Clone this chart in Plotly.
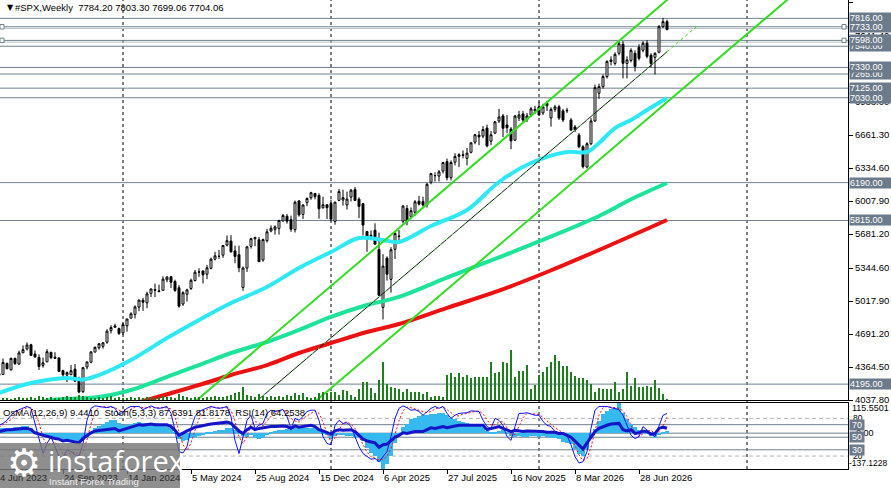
import numpy as np
import pandas as pd
import plotly.graph_objects as go

# weekly bars, MT4 weeks start on Sunday; first bar = week of 4 Jun 2023
first_week = "2023-06-04"

open_ = [4282, 4290, 4400, 4337, 4450, 4394, 4505, 4544, 4585, 4492,
         4459, 4380, 4415, 4510, 4462, 4454, 4329, 4284, 4289, 4343,
         4226, 4120, 4365, 4412, 4512, 4555, 4569, 4610, 4725, 4758,
         4745, 4703, 4772, 4848, 4886, 4958, 5026, 5000, 5094, 5131,
         5111, 5123, 5228, 5258, 5211, 5149, 4988, 5085, 5142, 5221,
         5305, 5316, 5283, 5342, 5432, 5460, 5472, 5572, 5611, 5514,
         5476, 5152, 5345, 5559, 5634, 5624, 5424, 5615, 5711, 5727,
         5737, 5810, 5857, 5823, 5724, 6008, 5875, 5992, 6040, 6083,
         6063, 5941, 5970, 5982, 5805, 6014, 6018, 5970, 6046, 6121,
         6026, 5981, 5706, 5658, 5718, 5527, 4954, 5442, 5232, 5529,
         5656, 5808, 5934, 5855, 5897, 6005, 6004, 5970, 6193, 6259,
         6255, 6304, 6398, 6240, 6392, 6450, 6466, 6430, 6490, 6590,
         6660, 6650, 6730, 6600, 6680, 6800, 6850, 6760, 6720, 6610,
         6830, 6870, 6815, 6860, 6915, 6940, 6880, 6950, 6830, 6915,
         6940, 6900, 6900, 6810, 6740, 6660, 6545, 6345, 6575, 6800,
         7075, 7140, 7240, 7390, 7370, 7470, 7560, 7370, 7400, 7470,
         7530, 7500, 7570, 7450, 7430, 7480, 7734, 7784.20]
high = [4299, 4448, 4408, 4458, 4456, 4527, 4578, 4608, 4594, 4528,
        4490, 4458, 4541, 4515, 4511, 4461, 4338, 4320, 4385, 4394,
        4268, 4366, 4415, 4521, 4568, 4598, 4609, 4739, 4778, 4793,
        4755, 4802, 4842, 4907, 4975, 5030, 5049, 5111, 5141, 5190,
        5180, 5262, 5265, 5264, 5229, 5175, 5114, 5139, 5239, 5325,
        5342, 5315, 5375, 5448, 5505, 5524, 5570, 5667, 5670, 5566,
        5566, 5360, 5564, 5643, 5651, 5651, 5636, 5733, 5767, 5767,
        5822, 5879, 5878, 5863, 6012, 6018, 5973, 6044, 6099, 6085,
        6085, 6050, 5977, 6022, 5999, 6128, 6120, 6101, 6127, 6147,
        6044, 5987, 5710, 5716, 5787, 5695, 5481, 5460, 5551, 5700,
        5721, 5969, 5968, 5944, 6017, 6059, 6050, 6187, 6285, 6291,
        6315, 6395, 6428, 6410, 6481, 6482, 6508, 6532, 6590, 6672,
        6700, 6750, 6764, 6700, 6800, 6920, 6870, 6860, 6740, 6860,
        6900, 6900, 6880, 6940, 6950, 6990, 6970, 7000, 6935, 6960,
        6960, 6920, 6930, 6830, 6760, 6680, 6560, 6590, 6830, 7160,
        7170, 7260, 7400, 7440, 7480, 7600, 7590, 7440, 7520, 7500,
        7560, 7590, 7600, 7470, 7480, 7750, 7820, 7803.30]
low = [4260, 4290, 4341, 4328, 4385, 4389, 4503, 4528, 4474, 4456,
       4335, 4357, 4414, 4442, 4448, 4317, 4238, 4216, 4283, 4223,
       4104, 4108, 4342, 4401, 4511, 4537, 4546, 4594, 4697, 4751,
       4682, 4682, 4714, 4845, 4845, 4917, 4920, 4946, 5057, 5057,
       5104, 5117, 5203, 5146, 5108, 4953, 4969, 5012, 5127, 5211,
       5257, 5192, 5234, 5331, 5420, 5434, 5445, 5558, 5497, 5391,
       5303, 5119, 5306, 5537, 5560, 5403, 5407, 5596, 5698, 5675,
       5675, 5805, 5784, 5703, 5696, 5853, 5830, 5957, 6020, 6024,
       5832, 5933, 5829, 5807, 5773, 6006, 5962, 5923, 6003, 6009,
       5837, 5666, 5505, 5632, 5572, 5069, 4835, 5220, 5101, 5434,
       5602, 5786, 5768, 5838, 5862, 5964, 5952, 5943, 6174, 6201,
       6201, 6281, 6212, 6212, 6360, 6343, 6430, 6360, 6480, 6570,
       6560, 6630, 6540, 6560, 6670, 6780, 6640, 6680, 6520, 6600,
       6800, 6780, 6790, 6840, 6870, 6850, 6860, 6900, 6744, 6890,
       6810, 6790, 6880, 6700, 6690, 6530, 6330, 6330, 6560, 6790,
       7020, 7120, 7220, 7350, 7350, 7450, 7222, 7222, 7380, 7290,
       7400, 7480, 7420, 7330, 7260, 7470, 7720, 7699.06]
close = [4299, 4410, 4348, 4450, 4399, 4505, 4536, 4582, 4478, 4464,
         4370, 4406, 4516, 4457, 4450, 4320, 4288, 4309, 4328, 4224,
         4117, 4358, 4415, 4514, 4559, 4595, 4604, 4719, 4755, 4770,
         4697, 4784, 4840, 4891, 4959, 5027, 5006, 5089, 5137, 5124,
         5117, 5234, 5254, 5204, 5123, 4967, 5100, 5128, 5223, 5303,
         5305, 5278, 5347, 5432, 5465, 5460, 5567, 5615, 5505, 5459,
         5347, 5344, 5554, 5635, 5648, 5408, 5626, 5703, 5738, 5751,
         5815, 5865, 5808, 5729, 5996, 5871, 5969, 6032, 6090, 6051,
         5931, 5971, 5942, 5827, 5997, 6101, 6041, 6026, 6115, 6013,
         5955, 5770, 5639, 5668, 5581, 5074, 5363, 5283, 5525, 5687,
         5660, 5958, 5803, 5912, 6000, 5977, 5968, 6173, 6279, 6260,
         6297, 6389, 6238, 6389, 6449, 6466, 6460, 6482, 6584, 6664,
         6643, 6716, 6552, 6664, 6791, 6840, 6728, 6734, 6603, 6849,
         6860, 6810, 6850, 6920, 6900, 6860, 6940, 6975, 6915, 6940,
         6830, 6810, 6905, 6711, 6711, 6545, 6348, 6575, 6800, 7130,
         7140, 7240, 7390, 7404, 7460, 7565, 7371, 7405, 7500, 7340,
         7420, 7570, 7440, 7370, 7470, 7734, 7784, 7704.06]
# tick volume, arbitrary units
volume = [30, 20, 20, 10, 20, 30, 20, 20, 30, 20,
          40, 30, 20, 30, 20, 20, 30, 40, 30, 30,
          50, 40, 30, 20, 20, 30, 20, 30, 40, 20,
          30, 20, 20, 30, 20, 30, 20, 30, 30, 20,
          30, 40, 30, 30, 20, 60, 40, 30, 20, 30,
          30, 20, 30, 30, 40, 30, 30, 40, 50, 70,
          80, 130, 50, 40, 30, 60, 40, 30, 40, 30,
          40, 30, 50, 40, 70, 50, 67, 33, 17, 33,
          67, 83, 67, 83, 83, 50, 100, 90, 50, 33,
          107, 183, 183, 117, 67, 200, 383, 157, 133, 123,
          110, 83, 107, 77, 83, 83, 57, 77, 33, 40,
          40, 27, 250, 267, 233, 267, 233, 250, 217, 227,
          233, 227, 227, 383, 267, 277, 383, 367, 500, 233,
          290, 290, 350, 107, 150, 250, 283, 333, 383, 450,
          390, 343, 343, 283, 243, 217, 223, 200, 157, 77,
          117, 107, 107, 107, 177, 77, 107, 283, 140, 217,
          133, 133, 143, 133, 200, 117, 57, 10]

osma = [18, 18, 18, 19, 22, 24, 26, 26, 18, 9,
        -1, -10, -10, -11, -13, -20, -27, -29, -29, -29,
        -33, -26, -13, 6, 19, 28, 37, 43, 50, 50,
        38, 32, 32, 34, 38, 41, 38, 38, 40, 38,
        34, 34, 28, 18, 3, -23, -29, -27, -20, -17,
        -10, -4, 3, 5, 9, 13, 13, 18, 18, 13,
        3, -10, -13, -8, -17, -23, -20, -4, 5, 9,
        12, 14, 15, 13, 18, 18, 19, 18, 20, 18,
        13, 5, -8, -17, -10, -8, -8, -10, -10, -13,
        -20, -29, -55, -74, -87, -112, -137.1, -119, -87, -36,
        -4, 22, 34, 54, 60, 66, 69, 70, 73, 73,
        77, 77, 69, 60, 54, 47, 41, 38, 34, 28,
        26, 22, 9, 3, 6, 9, 13, 3, -10, -13,
        -10, -13, -13, -10, -10, -13, -10, -13, -17, -17,
        -23, -33, -36, -42, -61, -80, -87, -61, -17, 15,
        47, 73, 86, 92, 98, 115.5, 79, 56, 34, 22,
        13, 9, 3, -10, -17, -4, 5, 9.44]
stoch_main = [69, 72, 77, 85, 91, 94, 97, 99, 96, 72,
              51, 24, 40, 51, 35, 19, 18, 30, 27, 22,
              20, 40, 77, 96, 100, 99, 99, 97, 99, 96,
              85, 91, 96, 99, 99, 99, 94, 97, 100, 97,
              96, 97, 99, 88, 61, 27, 25, 35, 64, 83,
              91, 94, 97, 99, 97, 96, 97, 99, 83, 45,
              24, 51, 77, 85, 64, 69, 72, 88, 93, 91,
              93, 94, 83, 64, 80, 77, 83, 91, 93, 93,
              77, 51, 40, 38, 69, 77, 72, 73, 67, 51,
              35, 24, 19, 15, 16, 11, 19, 27, 51, 80,
              96, 100, 97, 93, 94, 91, 85, 91, 96, 99,
              96, 99, 88, 80, 85, 88, 88, 89, 92, 92,
              91, 77, 67, 64, 80, 77, 69, 51, 45, 67,
              88, 88, 89, 87, 85, 85, 75, 69, 67, 59,
              56, 56, 53, 38, 19, 9, 11, 27, 64, 93,
              99, 99, 99, 97, 96, 94, 85, 69, 53, 48,
              51, 67, 61, 56, 51, 69, 85, 87.64]
stoch_signal = [66, 70, 73, 78, 84, 90, 94, 97, 97, 89,
                73, 49, 38, 38, 42, 35, 24, 22, 25, 26,
                23, 27, 46, 71, 91, 98, 99, 98, 98, 97,
                93, 91, 91, 95, 98, 99, 97, 97, 97, 98,
                98, 97, 97, 95, 83, 59, 38, 29, 41, 61,
                79, 89, 94, 97, 98, 97, 97, 97, 93, 76,
                51, 40, 51, 71, 75, 73, 68, 76, 84, 91,
                92, 93, 90, 80, 76, 74, 80, 84, 89, 92,
                88, 74, 56, 43, 49, 61, 73, 74, 71, 64,
                51, 37, 26, 19, 17, 14, 15, 19, 32, 53,
                76, 92, 98, 97, 95, 93, 90, 89, 91, 95,
                97, 98, 94, 89, 84, 84, 87, 88, 90, 91,
                92, 87, 78, 69, 70, 74, 75, 66, 55, 54,
                67, 81, 88, 88, 87, 86, 82, 76, 70, 65,
                61, 57, 55, 49, 37, 22, 13, 16, 34, 61,
                85, 97, 99, 98, 97, 96, 92, 83, 69, 57,
                51, 55, 60, 61, 56, 59, 68, 81.82]
rsi = [59, 61, 62, 62, 63, 63, 64, 64, 62, 57,
       55, 53, 51, 50, 48, 47, 44, 45, 44, 43,
       41, 48, 53, 57, 60, 61, 61, 62, 64, 64,
       60, 62, 65, 67, 69, 70, 69, 70, 71, 70,
       70, 71, 70, 67, 61, 53, 57, 60, 63, 66,
       67, 69, 70, 71, 72, 72, 73, 74, 72, 66,
       60, 56, 62, 66, 62, 64, 65, 67, 67, 67,
       68, 68, 67, 64, 68, 66, 67, 68, 69, 67,
       62, 60, 58, 55, 60, 62, 61, 61, 62, 59,
       53, 47, 44, 43, 41, 34, 38, 39, 44, 50,
       53, 57, 56, 58, 59, 59, 59, 62, 65, 64,
       65, 67, 65, 67, 68, 69, 69, 69, 69, 70,
       70, 69, 62, 64, 66, 67, 64, 62, 59, 61,
       60, 59, 60, 60, 60, 59, 59, 58, 58, 58,
       56, 56, 53, 50, 44, 38, 31, 41, 51, 59,
       64, 67, 69, 71, 71, 72, 62, 60, 62, 56,
       57, 60, 59, 55, 56, 64, 66, 64.25]

# moving averages at a few bars (bar index, value)
ma_fast_idx = [0, 8, 17, 21, 25, 33, 42, 50, 58, 67, 75, 83, 90, 96, 100, 108, 117, 125, 133, 142, 147, 150, 154, 158, 162, 167]
ma_fast_val = [4107, 4206, 4256, 4240, 4285, 4434, 4651, 4830, 4998, 5157, 5345, 5503, 5641, 5622, 5602, 5760, 5919, 6196, 6384, 6493, 6493, 6582, 6730, 6810, 6909, 7028]
ma_mid_idx = [10, 13, 25, 33, 42, 50, 58, 67, 75, 83, 92, 100, 112, 125, 137, 150, 158, 167]
ma_mid_val = [4010, 4038, 4067, 4137, 4266, 4384, 4503, 4612, 4731, 4860, 4978, 5058, 5250, 5450, 5640, 5860, 6025, 6186]
ma_slow_idx = [35, 50, 58, 67, 75, 83, 92, 100, 112, 125, 137, 150, 167]
ma_slow_val = [4015, 4186, 4285, 4384, 4503, 4602, 4711, 4790, 4950, 5120, 5305, 5523, 5820]

# trend channel drawn on the chart: (dates, prices)
chan_upper = (["2024-05-05", "2026-08-23"], [3987, 8031])
chan_lower = (["2024-12-01", "2027-03-21"], [3987, 8031])
chan_mid = (["2024-08-18", "2026-08-16"], [3979, 7485])
chan_mid_ext = (["2026-08-16", "2026-10-11"], [7485, 7755])

levels = [7540, 7265, 7816, 7733, 7598, 7330, 7125, 7030, 6190, 5815, 4195]
marked_levels = [7733, 7598]
price_ticks = [7978.0, 7641.4, 7314.7, 6988.0, 6661.3, 6334.6, 6007.9, 5681.2, 5344.6, 5017.9, 4691.2, 4364.5, 4037.8]

label_dates = ["2023-06-04", "2023-09-24", "2024-01-14", "2024-05-05", "2024-08-25", "2024-12-15",
               "2025-04-06", "2025-07-27", "2025-11-16", "2026-03-08", "2026-06-28"]
label_text = ["4 Jun 2023", "24 Sep 2023", "14 Jan 2024", "5 May 2024", "25 Aug 2024", "15 Dec 2024",
              "6 Apr 2025", "27 Jul 2025", "16 Nov 2025", "8 Mar 2026", "28 Jun 2026"]
grid_dates = ["2024-01-07", "2025-01-05", "2026-01-04", "2027-01-03"]

header = "#SPX,Weekly  7784.20 7803.30 7699.06 7704.06"
osc_header = "OsMA(12,26,9) 9.4410  Stoch(5,3,3) 87.6391 81.8178  RSI(14) 64.2538"

n = len(close)
dates = pd.date_range(first_week, periods=n, freq="7D")


def at(idx):
    return [dates[k] for k in idx]


W, H = 891, 488
MR, MB = 43, 19
PW, PH = W - MR, H - MB
t0 = pd.Timestamp(first_week) + pd.Timedelta(days=1.75)
t1 = pd.Timestamp(first_week) + pd.Timedelta(days=1485.75)


def xfrac(d):
    return (pd.Timestamp(d) - t0) / (t1 - t0)


def ypx(px):
    return (PH - px) / PH


FONT = "Liberation Sans"
FS = 9.5
SLATE = "#708090"

fig = go.Figure()

fig.add_trace(go.Bar(x=dates, y=volume, xaxis="x", yaxis="y3", marker_color="#1f7f1f",
                     marker_line_width=0, width=1.6 * 86400000))

fig.add_trace(go.Scatter(x=at(ma_slow_idx), y=ma_slow_val, mode="lines", line=dict(color="#ee1111", width=4, shape="spline")))
fig.add_trace(go.Scatter(x=at(ma_mid_idx), y=ma_mid_val, mode="lines", line=dict(color="#1de39b", width=4, shape="spline")))
fig.add_trace(go.Scatter(x=at(ma_fast_idx), y=ma_fast_val, mode="lines", line=dict(color="#2ee8f5", width=4, shape="spline")))

for ch in (chan_upper, chan_lower):
    fig.add_trace(go.Scatter(x=ch[0], y=ch[1], mode="lines", line=dict(color="#33dd22", width=2)))
fig.add_trace(go.Scatter(x=chan_mid[0], y=chan_mid[1], mode="lines", line=dict(color="#111111", width=1)))
fig.add_trace(go.Scatter(x=chan_mid[0], y=chan_mid[1], mode="lines", line=dict(color="#33dd22", width=1, dash="2px,6px")))
fig.add_trace(go.Scatter(x=chan_mid_ext[0], y=chan_mid_ext[1], mode="lines", line=dict(color="#33dd22", width=1, dash="3px,3px")))

fig.add_trace(go.Candlestick(x=dates, open=open_, high=high, low=low, close=close,
                             increasing=dict(line=dict(color="black", width=1), fillcolor="white"),
                             decreasing=dict(line=dict(color="black", width=1), fillcolor="black"),
                             whiskerwidth=0))

# oscillator window
fig.add_trace(go.Bar(x=dates, y=osma, xaxis="x2", yaxis="y2", marker_color="#36b9ef",
                     marker_line_width=0, width=3.2 * 1.75 * 86400000))
fig.add_trace(go.Scatter(x=dates, y=stoch_signal, xaxis="x2", yaxis="y4", mode="lines",
                         line=dict(color="#ff1010", width=1, dash="2px,2px")))
fig.add_trace(go.Scatter(x=dates, y=stoch_main, xaxis="x2", yaxis="y4", mode="lines",
                         line=dict(color="#1010ff", width=1)))
fig.add_trace(go.Scatter(x=dates, y=rsi, xaxis="x2", yaxis="y4", mode="lines",
                         line=dict(color="#1414c8", width=3)))

shapes = []
for g in grid_dates:
    shapes.append(dict(type="line", xref="x", yref="paper", x0=g, x1=g, y0=0, y1=1,
                       line=dict(color="black", width=1, dash="3px,3px"), layer="below"))
for lv in levels:
    if lv in marked_levels:
        shapes.append(dict(type="line", xref="paper", yref="y", x0=0, x1=1, y0=lv - 17, y1=lv - 17,
                           line=dict(color="#b8c0c8", width=1), layer="below"))
    shapes.append(dict(type="line", xref="paper", yref="y", x0=0, x1=1, y0=lv, y1=lv,
                       line=dict(color=SLATE, width=1), layer="below"))
for lv in marked_levels:
    for xa, xb in ((0, 4 / PW), (842 / PW, 846 / PW)):
        shapes.append(dict(type="rect", xref="paper", yref="y", x0=xa, x1=xb, y0=lv - 22, y1=lv + 22,
                           line=dict(color=SLATE, width=1), fillcolor="white"))
for v in (80, 20):
    shapes.append(dict(type="line", xref="paper", yref="y4", x0=0, x1=1, y0=v, y1=v,
                       line=dict(color="#b4b4b4", width=1, dash="4px,3px"), layer="below"))
for v in (70, 50, 30):
    shapes.append(dict(type="line", xref="paper", yref="y4", x0=0, x1=1, y0=v, y1=v,
                       line=dict(color=SLATE, width=1), layer="below"))
shapes.append(dict(type="line", xref="paper", yref="y2", x0=0, x1=1, y0=0, y1=0,
                   line=dict(color=SLATE, width=1), layer="below"))
# instaforex watermark
shapes.append(dict(type="rect", xref="paper", yref="paper", x0=0, x1=180 / PW, y0=ypx(488), y1=ypx(443),
                   fillcolor="rgba(118,118,118,0.82)", line=dict(width=0), layer="above"))

ann = []
ann.append(dict(xref="paper", yref="paper", x=5 / PW, y=ypx(8), text="▼", showarrow=False,
                xanchor="left", yanchor="middle", font=dict(family="DejaVu Sans", size=8, color="black")))
ann.append(dict(xref="paper", yref="paper", x=13 / PW, y=ypx(8), text=header.replace("  ", "&nbsp;&nbsp;"),
                showarrow=False, xanchor="left", yanchor="middle", font=dict(family=FONT, size=FS, color="black")))
ann.append(dict(xref="paper", yref="paper", x=1 / PW, y=ypx(412), text=osc_header.replace("  ", "&nbsp;&nbsp;"),
                showarrow=False, xanchor="left", yanchor="middle", font=dict(family=FONT, size=FS, color="black")))

for lv in levels:
    ann.append(dict(xref="paper", yref="y", x=1, y=lv, text=f"{lv:.2f}", showarrow=False,
                    xanchor="left", yanchor="middle", xshift=1, width=41, align="left", borderpad=0,
                    bgcolor="#6c7b8b", font=dict(family=FONT, size=9, color="white")))

ann.append(dict(xref="paper", yref="y2", x=1, y=115.5501, text="115.5501", showarrow=False, xanchor="left",
                yanchor="top", xshift=2, yshift=2, font=dict(family=FONT, size=9, color="black")))
ann.append(dict(xref="paper", yref="y2", x=1, y=-137.1228, text="-137.1228", showarrow=False, xanchor="left",
                yanchor="bottom", xshift=-1, yshift=-1, font=dict(family=FONT, size=8.5, color="black")))
for v, txt in ((80, "80"), (20, "20")):
    ann.append(dict(xref="paper", yref="y4", x=1, y=v, text=txt, showarrow=False, xanchor="left",
                    yanchor="middle", xshift=3, font=dict(family=FONT, size=8.5, color="black")))
ann.append(dict(xref="paper", yref="y2", x=1, y=0, text="0.00", showarrow=False, xanchor="left",
                yanchor="middle", xshift=6, font=dict(family=FONT, size=9, color="black")))
for v in (70, 50, 30):
    ann.append(dict(xref="paper", yref="y4", x=1, y=v, text=str(v), showarrow=False, xanchor="left",
                    yanchor="middle", xshift=1, width=14, borderpad=0, bgcolor="#6c7b8b",
                    font=dict(family=FONT, size=9, color="white")))

for d, txt in zip(label_dates, label_text):
    under_logo = xfrac(d) * PW < 175
    ann.append(dict(xref="paper", yref="paper", x=xfrac(d), y=ypx(478), text=txt, showarrow=False,
                    xanchor="left", yanchor="middle", xshift=-1,
                    font=dict(family=FONT, size=FS, color="#2a2a2a" if under_logo else "black")))

ann.append(dict(xref="paper", yref="paper", x=5 / PW, y=ypx(463), text="⚙", showarrow=False,
                xanchor="left", yanchor="middle", font=dict(family="DejaVu Sans", size=38, color="white")))
ann.append(dict(xref="paper", yref="paper", x=46 / PW, y=ypx(460), text="instaforex", showarrow=False,
                xanchor="left", yanchor="middle", font=dict(family="Open Sans", size=29, color="white")))
ann.append(dict(xref="paper", yref="paper", x=47 / PW, y=ypx(481), text="Instant Forex Trading", showarrow=False,
                xanchor="left", yanchor="middle", font=dict(family=FONT, size=9.5, color="#eeeeee")))

main_dom = [1 - 400 / PH, 1]
osc_dom = [0, 66 / PH]
xr = [t0, t1]

fig.update_layout(
    width=W, height=H,
    margin=dict(l=0, r=MR, t=0, b=MB),
    paper_bgcolor="white", plot_bgcolor="white",
    showlegend=False, hovermode=False, bargap=0,
    shapes=shapes, annotations=ann,
    xaxis=dict(domain=[0, 1], anchor="y", range=xr, type="date", showticklabels=False, ticks="",
               showgrid=False, zeroline=False, showline=True, linecolor="black", linewidth=1, mirror=True,
               rangeslider=dict(visible=False)),
    yaxis=dict(domain=main_dom, anchor="x", range=[4037.8, 7997.8], side="right", showgrid=False,
               zeroline=False, showline=True, linecolor="black", linewidth=1, mirror=True,
               tickvals=price_ticks, ticktext=[f"{v:.2f}" for v in price_ticks],
               ticks="outside", ticklen=4, tickcolor="black",
               tickfont=dict(family=FONT, size=FS, color="black")),
    yaxis3=dict(overlaying="y", anchor="x", range=[0, 4000], visible=False),
    xaxis2=dict(domain=[0, 1], anchor="y2", range=xr, type="date", showticklabels=False,
                tickvals=label_dates, ticks="outside", ticklen=4, tickcolor="black",
                showgrid=False, zeroline=False, showline=True, linecolor="black", linewidth=1, mirror=True),
    yaxis2=dict(domain=osc_dom, anchor="x2", range=[-137.1228, 115.5501], showticklabels=False, ticks="",
                showgrid=False, zeroline=False, showline=True, linecolor="black", linewidth=1, mirror=True),
    yaxis4=dict(overlaying="y2", anchor="x2", range=[-0.6, 104.5], visible=False),
)

fig.write_html("out.html", config={"displayModeBar": False},
               post_script="document.body.style.margin='0';")
